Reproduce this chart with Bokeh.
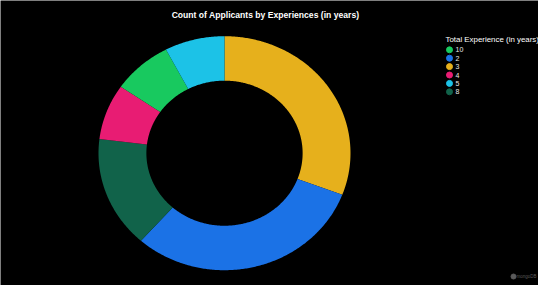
import math
from bokeh.plotting import figure
from bokeh.models import Range1d, ColumnDataSource
from bokeh.core.properties import value
from bokeh.embed import file_html
from bokeh.resources import INLINE

# ---- data ----
title_text = "Count of Applicants by Experiences (in years)"
legend_title = "Total Experience (in years)"
labels = ["10", "2", "3", "4", "5", "8"]          # legend order
counts = [1, 4, 4, 1, 1, 2]
colors = ["#18C95F", "#1B72E6", "#E6B01C", "#E81C73", "#1CC2E7", "#11634A"]
slice_order = ["3", "2", "8", "4", "10", "5"]     # clockwise from 12 o'clock

W, H = 538, 285
OX, OY = 8, 8   # page offset of the figure
p = figure(width=W, height=H, output_backend="svg", toolbar_location=None,
           x_range=Range1d(0, W), y_range=Range1d(H, 0),
           min_border=0, min_border_left=0, min_border_right=0,
           min_border_top=0, min_border_bottom=0,
           background_fill_color="black", border_fill_color="black",
           outline_line_color=None)
p.axis.visible = False
p.grid.visible = False

# donut geometry
cx, cy = 232 - OX, 160.7 - OY
rx, ry = 126, 117
hole = 0.62

total = float(sum(counts))
lookup = dict(zip(labels, zip(counts, colors)))
xs, ys, fills = [], [], []
start = 0.0
for lab in slice_order:
    c, col = lookup[lab]
    span = c / total * 2 * math.pi
    n = max(8, int(span / 0.01))
    angs = [start + span * i / n for i in range(n + 1)]
    ox = [cx + rx * math.sin(a) for a in angs]
    oy = [cy - ry * math.cos(a) for a in angs]
    ix = [cx + rx * hole * math.sin(a) for a in reversed(angs)]
    iy = [cy - ry * hole * math.cos(a) for a in reversed(angs)]
    xs.append(ox + ix)
    ys.append(oy + iy)
    fills.append(col)
    start += span

p.patches(xs="xs", ys="ys", fill_color="fills", line_color=None,
          source=ColumnDataSource(dict(xs=xs, ys=ys, fills=fills)))

# title
p.text(x=[273 - OX], y=[22 - OY], text=[title_text], text_align="center",
       text_baseline="middle", text_color="white", text_font_style="bold",
       text_font_size="8.6px", text_font=value("Liberation Sans"))

# legend
p.text(x=[453 - OX], y=[47 - OY], text=[legend_title], text_align="left",
       text_baseline="middle", text_color="white",
       text_font_size="7.9px", text_font=value("Liberation Sans"))
ly = [57.3 - OY + i * 8.4 for i in range(len(labels))]
p.scatter(x=[457 - OX] * len(labels), y=ly, size=6, color=colors, marker="circle")
p.text(x=[463 - OX] * len(labels), y=ly, text=labels, text_align="left",
       text_baseline="middle", text_color="#e8e8e8",
       text_font_size="7px", text_font=value("Liberation Sans"))

# watermark
p.scatter(x=[521 - OX], y=[284 - OY], size=5, color="#5a5a5a", marker="circle")
p.text(x=[524 - OX], y=[284 - OY], text=["mongoDB"], text_align="left",
       text_baseline="middle", text_color="#5a5a5a",
       text_font_size="4.5px", text_font=value("Liberation Sans"))

html = file_html(p, INLINE)
html = html.replace("<body>", '<body style="background-color:#d3c0f6">', 1)
open("out.html", "w").write(html)
